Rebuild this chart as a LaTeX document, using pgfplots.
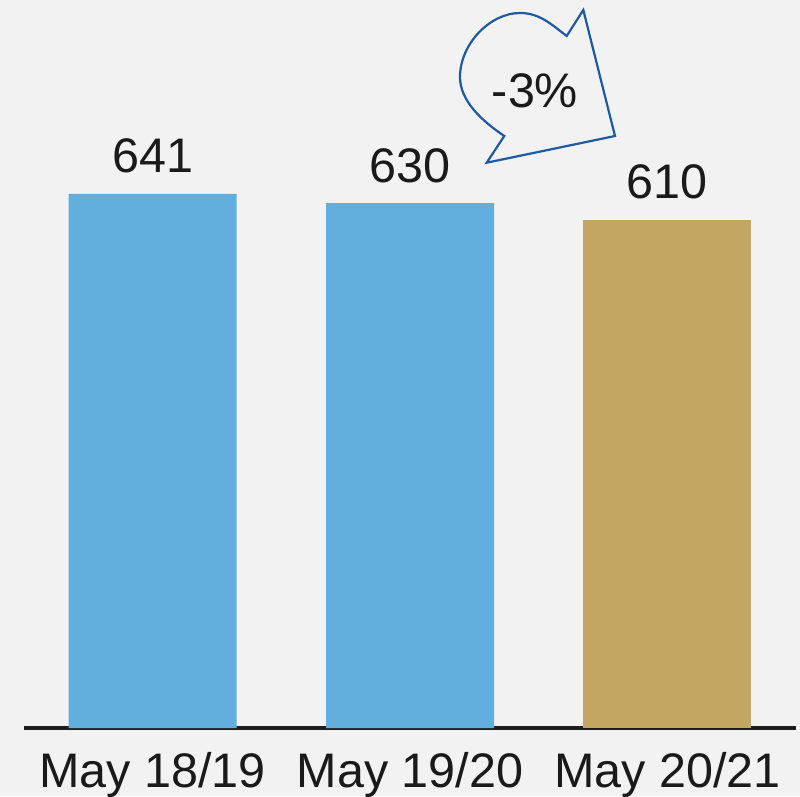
\documentclass[border=0pt]{standalone}
\usepackage{pgfplots}
\pgfplotsset{compat=1.18}
\usepackage{fontspec}
\setmainfont{Liberation Sans}
\definecolor{bg}{HTML}{F2F2F2}
\definecolor{barblue}{HTML}{62AEDD}
\definecolor{bargold}{HTML}{C3A661}
\definecolor{arrowblue}{HTML}{1F5AA0}
\definecolor{axisblack}{HTML}{1E1E1E}
\definecolor{txt}{HTML}{1A1A1A}
\begin{document}
\begin{tikzpicture}[x=1pt,y=1pt]
\fill[bg] (0,0) rectangle (800,796);
\useasboundingbox (0,0) rectangle (800,796);
\begin{axis}[
  at={(24pt,68pt)}, anchor=south west,
  scale only axis, width=772pt, height=728pt,
  xmin=-0.5, xmax=2.5, ymin=0, ymax=873.8,
  hide y axis,
  axis x line*=bottom,
  x axis line style={line width=3.6pt, color=axisblack},
  xtick={0,1,2},
  xticklabels={May 18/19, May 19/20, May 20/21},
  major tick length=0pt,
  xticklabel style={anchor=base, inner sep=0pt, yshift=-59pt, font=\fontsize{48.5}{58}\selectfont, text=txt},
  ybar, bar width=168pt,
  /pgf/number format/assume math mode=true,
  nodes near coords={\pgfmathprintnumber[assume math mode=true]{\pgfplotspointmeta}},
  every node near coord/.append style={anchor=base, inner sep=0pt, yshift=21pt, font=\fontsize{48.5}{58}\selectfont, text=txt},
  clip=false,
]
\addplot[fill=barblue, draw=none, bar shift=0pt] coordinates {(0,641) (1,630)};
\addplot[fill=bargold, draw=none, bar shift=0pt] coordinates {(2,610)};
\end{axis}
\draw[arrowblue, line width=2.2pt, line join=miter]
  (566.7,760) -- (583.3,786) -- (615,660) -- (486.7,633.3) -- (504.3,660)
  .. controls (482,675) and (460,695) .. (460,719)
  .. controls (460,752) and (490,783) .. (520,783)
  .. controls (540,783) and (552,771) .. (566.7,760) -- cycle;
\node[anchor=base, inner sep=0pt, font=\fontsize{48.5}{58}\selectfont, text=txt] at (535,688) {-3\%};
\end{tikzpicture}
\end{document}
